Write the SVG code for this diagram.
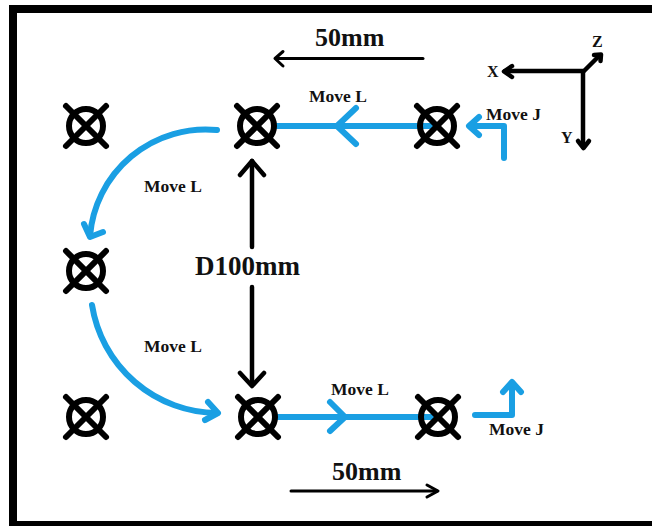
<svg xmlns="http://www.w3.org/2000/svg" xmlns:xlink="http://www.w3.org/1999/xlink" width="652" height="526" viewBox="0 0 652 526">
  <style>
    .frame { fill: none; stroke: #000; stroke-width: 8; }
    .tgt { fill: none; stroke: #000; stroke-width: 6; stroke-linecap: round; }
    .blue { fill: none; stroke: #1a9fe3; stroke-width: 6; stroke-linecap: round; stroke-linejoin: round; }
    .dim { fill: none; stroke: #000; stroke-width: 3; stroke-linecap: round; stroke-linejoin: round; }
    .dimv { fill: none; stroke: #000; stroke-width: 4.5; stroke-linecap: round; stroke-linejoin: round; }
    .axis { fill: none; stroke: #000; stroke-width: 4.5; stroke-linecap: round; stroke-linejoin: round; }
    .lbl { font-family: "Liberation Serif", "Times New Roman", serif; font-weight: bold; fill: #111; }
    .mv { font-size: 17.5px; }
    .big { font-size: 26px; }
    .ax { font-size: 16px; }
  </style>
  <defs>
    <!-- target point: ring with a cross -->
    <g id="target">
      <circle class="tgt" cx="0" cy="0" r="17"/>
      <line class="tgt" x1="-20" y1="-20" x2="20" y2="20"/>
      <line class="tgt" x1="20" y1="-20" x2="-20" y2="20"/>
    </g>
  </defs>

  <rect width="652" height="526" fill="#fff"/>
  <rect class="frame" x="13" y="9" width="700" height="516"/>

  <!-- motion paths and dimension arrows -->
  <g id="connectors">
    <!-- top Move L, right to left -->
    <line class="blue" x1="276" y1="126" x2="437" y2="126"/>
    <polyline class="blue" points="356,108 337,126 356,144"/>
    <!-- top Move J approach -->
    <polyline class="blue" points="504,158 504,126 470,126"/>
    <polyline class="blue" points="479,117 469,126 479,135"/>
    <!-- upper arc -->
    <path class="blue" d="M217,130 A116,116 0 0,0 90,236"/>
    <polyline class="blue" points="84,224 90,237 103,232"/>
    <!-- lower arc -->
    <path class="blue" d="M92,305 A128,128 0 0,0 217,413"/>
    <polyline class="blue" points="208,402 218,413 205,420"/>
    <!-- bottom Move L, left to right -->
    <line class="blue" x1="276" y1="417" x2="438" y2="417"/>
    <polyline class="blue" points="330,402 345,417 330,431"/>
    <!-- bottom Move J retreat -->
    <polyline class="blue" points="475,415 512,415 512,383"/>
    <polyline class="blue" points="503,392 512,382 521,392"/>

    <!-- 50mm dimension, top -->
    <line class="dim" x1="276" y1="58.5" x2="423" y2="58.5"/>
    <polyline class="dim" points="283,51.5 275,58.5 283,66"/>
    <!-- D100mm dimension -->
    <line class="dimv" x1="252" y1="161" x2="252" y2="247"/>
    <polyline class="dimv" points="240,175 252,161 264,175"/>
    <line class="dimv" x1="252" y1="287" x2="252" y2="385"/>
    <polyline class="dimv" points="240,373 252,386 264,373"/>
    <!-- 50mm dimension, bottom -->
    <line class="dim" x1="291" y1="491" x2="437" y2="491"/>
    <polyline class="dim" points="427,485 438,491 427,497"/>
  </g>

  <!-- target points -->
  <g id="p-top-left"><use xlink:href="#target" href="#target" x="86" y="126"/></g>
  <g id="p-top-mid"><use xlink:href="#target" href="#target" x="257" y="126"/></g>
  <g id="p-top-right"><use xlink:href="#target" href="#target" x="437" y="126"/></g>
  <g id="p-mid-left"><use xlink:href="#target" href="#target" x="86" y="271"/></g>
  <g id="p-bot-left"><use xlink:href="#target" href="#target" x="86" y="417"/></g>
  <g id="p-bot-mid"><use xlink:href="#target" href="#target" x="258" y="417"/></g>
  <g id="p-bot-right"><use xlink:href="#target" href="#target" x="438" y="417"/></g>

  <!-- coordinate axes -->
  <g id="axes">
    <polyline class="axis" points="505,71 583,71 583,147"/>
    <polyline class="axis" points="512,66 504,71.5 512,77"/>
    <polyline class="axis" points="578,141 583.5,148 589,141"/>
    <line class="axis" x1="583" y1="72" x2="599" y2="56"/>
    <polyline class="axis" points="594,55 601,54.5 600.5,61"/>
    <text class="lbl ax" x="487" y="77">X</text>
    <text class="lbl ax" x="561" y="143">Y</text>
    <text class="lbl ax" x="592" y="47">Z</text>
  </g>

  <!-- labels -->
  <g id="labels">
    <text class="lbl big" x="315" y="46">50mm</text>
    <text class="lbl mv" x="309" y="102">Move L</text>
    <text class="lbl mv" x="486" y="120">Move J</text>
    <text class="lbl mv" x="144" y="192">Move L</text>
    <text class="lbl" x="195" y="275" font-size="27px">D100mm</text>
    <text class="lbl mv" x="144" y="352">Move L</text>
    <text class="lbl mv" x="331" y="395">Move L</text>
    <text class="lbl mv" x="489" y="435">Move J</text>
    <text class="lbl big" x="332" y="480">50mm</text>
  </g>
</svg>
